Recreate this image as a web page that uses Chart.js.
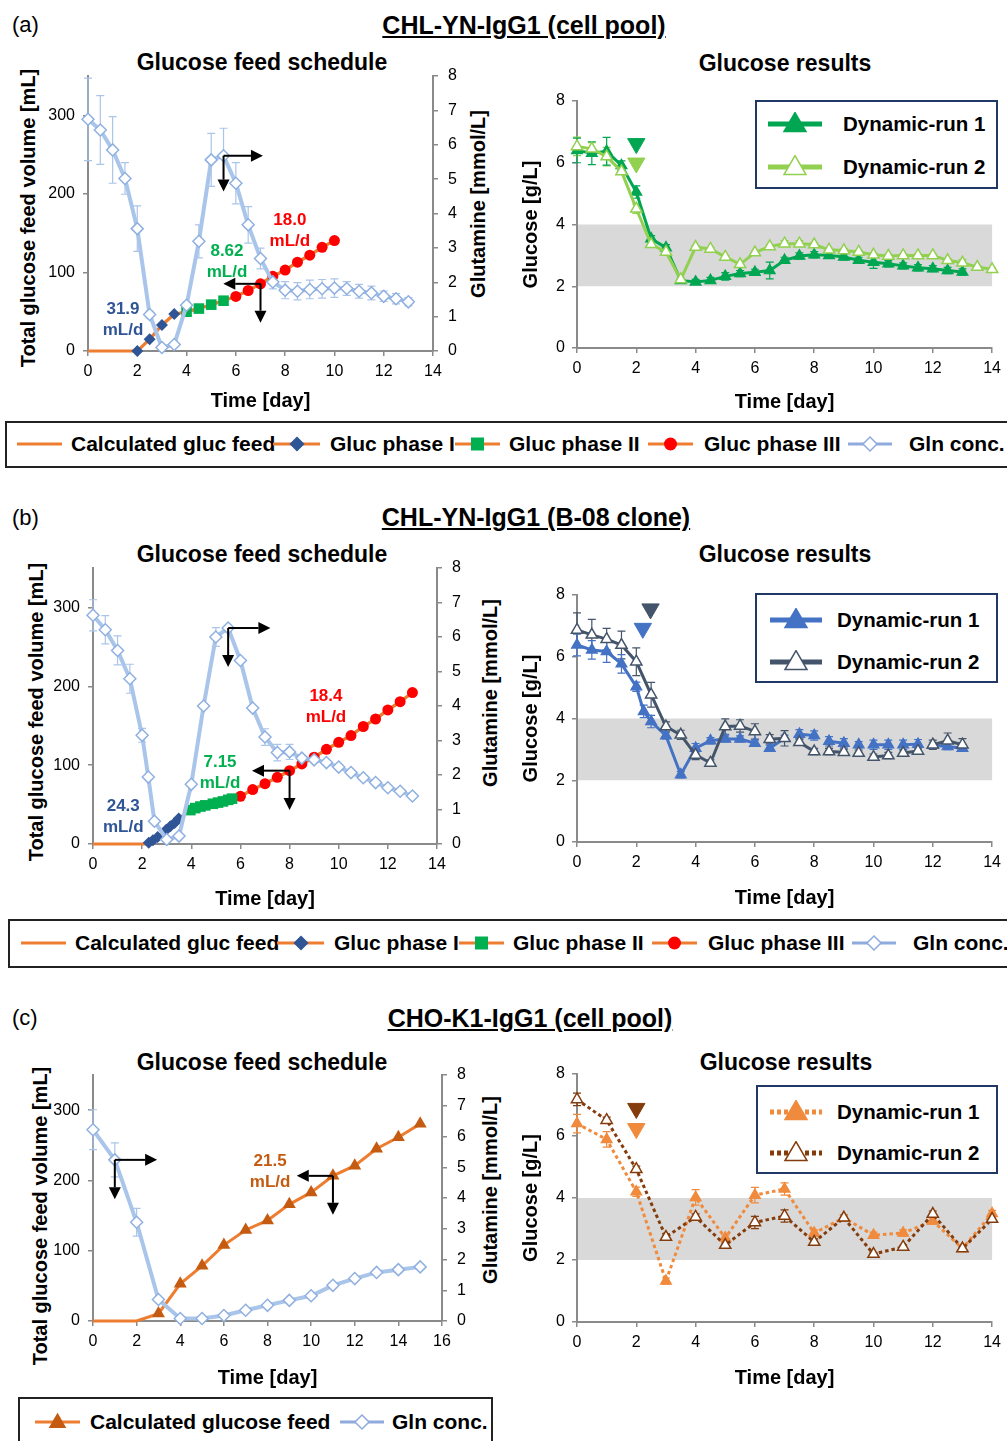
<!DOCTYPE html>
<html>
<head>
<meta charset="utf-8">
<title>Glucose feed schedule and results</title>
<script src="https://cdn.jsdelivr.net/npm/chart.js"></script>
<style>
  body { margin: 0; background: #fff; }
  #page { position: relative; width: 1007px; height: 1441px; overflow: hidden;
          font-family: "Liberation Sans", Arial, sans-serif; color: #000; }
  .t { position: absolute; white-space: nowrap; line-height: 26px; }
  .panel { font-size: 22px; }
  .head { font-size: 25px; font-weight: bold; text-decoration: underline; text-align: center; width: 500px; }
  .sub { font-size: 23px; font-weight: bold; text-align: center; width: 400px; }
  .rot { position: absolute; white-space: nowrap; font-size: 20px; font-weight: bold; line-height: 24px;
         transform: translate(-50%, -50%) rotate(-90deg); }
  canvas { position: absolute; }
  .box { position: absolute; border: 2px solid #222; box-sizing: border-box; }
  .inset { position: absolute; border: 2px solid #1F3864; box-sizing: border-box; background: #fff; }
  .li { position: absolute; height: 24px; display: flex; align-items: center; white-space: nowrap;
        font-weight: bold; font-size: 21px; }
  .li.small { font-size: 20.5px; }
</style>
</head>
<body>
<div id="page">
  <div class="t panel" style="left:12px;top:12px">(a)</div>
  <div class="t head" style="left:274px;top:12px">CHL-YN-IgG1 (cell pool)</div>
  <div class="t sub" style="left:62px;top:49px">Glucose feed schedule</div>
  <div class="t sub" style="left:585px;top:50px">Glucose results</div>
  <div class="rot" style="left:28px;top:218px">Total glucose feed volume [mL]</div>
  <div class="rot" style="left:478px;top:204px">Glutamine [mmol/L]</div>
  <canvas id="cA1"></canvas>
  <canvas id="cA2"></canvas>

  <div class="t panel" style="left:12px;top:505px">(b)</div>
  <div class="t head" style="left:286px;top:504px">CHL-YN-IgG1 (B-08 clone)</div>
  <div class="t sub" style="left:62px;top:541px">Glucose feed schedule</div>
  <div class="t sub" style="left:585px;top:541px">Glucose results</div>
  <div class="rot" style="left:36px;top:712px">Total glucose feed volume [mL]</div>
  <div class="rot" style="left:490px;top:693px">Glutamine [mmol/L]</div>
  <canvas id="cB1"></canvas>
  <canvas id="cB2"></canvas>

  <div class="t panel" style="left:12px;top:1005px">(c)</div>
  <div class="t head" style="left:280px;top:1005px">CHO-K1-IgG1 (cell pool)</div>
  <div class="t sub" style="left:62px;top:1049px">Glucose feed schedule</div>
  <div class="t sub" style="left:586px;top:1049px">Glucose results</div>
  <div class="rot" style="left:40px;top:1216px">Total glucose feed volume [mL]</div>
  <div class="rot" style="left:490px;top:1190px">Glutamine [mmol/L]</div>
  <canvas id="cC1"></canvas>
  <canvas id="cC2"></canvas>

  <div class="box" style="left:5px;top:421px;width:1012px;height:47px"></div>
  <div class="box" style="left:8px;top:919px;width:1012px;height:49px"></div>
  <div class="box" style="left:18px;top:1397px;width:475px;height:60px"></div>
  <div class="inset" style="left:755px;top:100px;width:243px;height:89px"></div>
  <div class="inset" style="left:755px;top:593px;width:243px;height:90px"></div>
  <div class="inset" style="left:756px;top:1085px;width:242px;height:89px"></div>
</div>

<script>
// ---------- (a) CHL-YN-IgG1 (cell pool) ----------
const aGlnDays = [0, 0.5, 1, 1.5, 2, 2.5, 3, 3.5, 4, 4.5, 5, 5.5, 6, 6.5, 7, 7.5, 8, 8.5, 9, 9.5, 10, 10.5, 11, 11.5, 12, 12.5, 13];
const aGln = [6.74, 6.43, 5.85, 5.02, 3.56, 1.06, 0.10, 0.19, 1.33, 3.19, 5.56, 5.68, 4.88, 3.67, 2.69, 2.01, 1.77, 1.74, 1.79, 1.81, 1.83, 1.82, 1.74, 1.69, 1.59, 1.52, 1.43];
const aGlnErr = [1.2, 1.0, 0.97, 0.46, 0.66, 0.1, 0.03, 0.05, 0.1, 0.48, 0.77, 0.8, 0.6, 0.53, 0.3, 0.2, 0.25, 0.25, 0.27, 0.27, 0.27, 0.2, 0.2, 0.2, 0.15, 0.15, 0.12];
const aZeroDays = [0, 2];
const aZeroFeed = [0, 0];
const aPh1Days = [2, 2.5, 3, 3.5];
const aPh1 = [0, 15, 33, 47];
const aPh2Days = [4, 4.5, 5, 5.5];
const aPh2 = [50, 54, 59, 64];
const aPh3Days = [6, 6.5, 7, 7.5, 8, 8.5, 9, 9.5, 10];
const aPh3 = [69.5, 77, 85.5, 95, 103, 113, 122, 132, 140.5];

const aRunDays1 = [0, 0.5, 1, 1.5, 2, 2.5, 3, 3.5, 4, 4.5, 5, 5.5, 6, 6.5, 7, 7.5, 8, 8.5, 9, 9.5, 10, 10.5, 11, 11.5, 12, 12.5, 13];
const aRun1 = [6.40, 6.31, 6.37, 5.91, 5.05, 3.54, 3.25, 2.19, 2.14, 2.19, 2.32, 2.41, 2.45, 2.51, 2.84, 2.98, 3.02, 3.00, 2.95, 2.84, 2.78, 2.73, 2.66, 2.60, 2.57, 2.51, 2.46];
const aRun1Err = [0.4, 0.37, 0.45, 0.15, 0.2, 0.1, 0.1, 0.05, 0.08, 0.1, 0.12, 0.1, 0.1, 0.27, 0.1, 0.1, 0.1, 0.1, 0.1, 0.1, 0.2, 0.1, 0.1, 0.1, 0.1, 0.1, 0.1];
const aRunDays2 = [0, 0.5, 1, 1.5, 2, 2.5, 3, 3.5, 4, 4.5, 5, 5.5, 6, 6.5, 7, 7.5, 8, 8.5, 9, 9.5, 10, 10.5, 11, 11.5, 12, 12.5, 13, 13.5, 14];
const aRun2 = [6.53, 6.45, 6.20, 5.72, 4.51, 3.36, 3.11, 2.22, 3.27, 3.21, 2.95, 2.71, 3.09, 3.29, 3.38, 3.38, 3.35, 3.18, 3.16, 3.11, 3.02, 2.98, 3.00, 3.00, 3.00, 2.84, 2.76, 2.62, 2.55];
const aRun2Err = [0.3, 0.2, 0.3, 0.1, 0.15, 0.05, 0.05, 0.05, 0.05, 0.05, 0.05, 0.05, 0.05, 0.05, 0.1, 0.1, 0.05, 0.05, 0.05, 0.05, 0.05, 0.05, 0.05, 0.05, 0.05, 0.05, 0.1, 0.05, 0.05];
const aStartDays = [2, 2];          // run 1, run 2 feed start
const aStart = [6.62, 5.99];

// ---------- (b) CHL-YN-IgG1 (B-08 clone) ----------
const bGlnDays = [0, 0.5, 1, 1.5, 2, 2.25, 2.5, 3, 3.5, 4, 4.5, 5, 5.5, 6, 6.5, 7, 7.5, 8, 8.5, 9, 9.5, 10, 10.5, 11, 11.5, 12, 12.5, 13];
const bGln = [6.63, 6.21, 5.61, 4.79, 3.15, 1.94, 0.66, 0.13, 0.23, 1.73, 4.00, 6.00, 6.26, 5.32, 3.94, 3.10, 2.65, 2.67, 2.49, 2.44, 2.36, 2.23, 2.07, 1.92, 1.78, 1.63, 1.53, 1.39];
const bGlnErr = [0.45, 0.41, 0.42, 0.42, 0.2, 0.05, 0.05, 0.03, 0.05, 0.05, 0.05, 0.27, 0.05, 0.05, 0.05, 0.24, 0.24, 0.22, 0.05, 0.05, 0.05, 0.05, 0.05, 0.05, 0.05, 0.05, 0.05, 0.05];
const bZeroDays = [0, 2.1];
const bZeroFeed = [0, 0];
const bPh1Days = [2.27, 2.44, 2.63, 2.98, 3.15, 3.32, 3.49];
const bPh1 = [1.7, 4.7, 8.9, 18.2, 22.5, 26.7, 32.2];
const bPh2Days = [3.96, 4.16, 4.37, 4.57, 4.88, 5.09, 5.29, 5.5, 5.66];
const bPh2 = [43, 45.5, 47.5, 49, 51, 52.5, 54, 56, 57.5];
const bPh3Days = [6, 6.5, 7, 7.5, 8, 8.5, 9, 9.5, 10, 10.5, 11, 11.5, 12, 12.5, 13];
const bPh3 = [60.5, 69, 76.5, 84.5, 93, 101.5, 110, 120, 129, 137.5, 149, 158.5, 170, 180.5, 192];

const bRunDays1 = [0, 0.5, 1, 1.5, 2, 2.25, 2.5, 3, 3.5, 4, 4.5, 5, 5.5, 6, 6.5, 7, 7.5, 8, 8.5, 9, 9.5, 10, 10.5, 11, 11.5, 12, 12.5, 13];
const bRun1 = [6.38, 6.22, 6.17, 5.77, 5.03, 4.23, 3.90, 3.44, 2.18, 3.04, 3.28, 3.34, 3.34, 3.20, 3.04, 3.36, 3.49, 3.45, 3.26, 3.20, 3.15, 3.15, 3.15, 3.15, 3.17, 3.13, 3.09, 3.04];
const bRun1Err = [0.35, 0.3, 0.35, 0.3, 0.15, 0.2, 0.2, 0.1, 0.1, 0.15, 0.1, 0.1, 0.1, 0.1, 0.1, 0.1, 0.15, 0.15, 0.15, 0.15, 0.1, 0.15, 0.15, 0.15, 0.15, 0.1, 0.1, 0.1];
const bRunDays2 = [0, 0.5, 1, 1.5, 2, 2.5, 3, 3.5, 4, 4.5, 5, 5.5, 6, 6.5, 7, 7.5, 8, 8.5, 9, 9.5, 10, 10.5, 11, 11.5, 12, 12.5, 13];
const bRun2 = [6.87, 6.71, 6.57, 6.38, 5.84, 4.77, 3.74, 3.47, 2.82, 2.56, 3.74, 3.76, 3.58, 3.33, 3.36, 3.23, 2.93, 2.93, 2.91, 2.88, 2.75, 2.80, 2.88, 2.95, 3.15, 3.28, 3.15];
const bRun2Err = [0.55, 0.5, 0.35, 0.45, 0.45, 0.4, 0.15, 0.15, 0.15, 0.1, 0.25, 0.2, 0.25, 0.15, 0.25, 0.1, 0.1, 0.1, 0.1, 0.1, 0.1, 0.1, 0.1, 0.1, 0.15, 0.25, 0.2];
// segments left undrawn in the original (line breaks between sampling pairs)
const bRun1Breaks = [13, 15, 17, 19, 20, 22, 24];
const bRun2Breaks = [12, 14, 16, 18, 19, 21, 23];
const bStartDays = [2.22, 2.48];
const bStart = [6.92, 7.55];

// ---------- (c) CHO-K1-IgG1 (cell pool) ----------
const cDays = [0, 1, 2, 3, 4, 5, 6, 7, 8, 9, 10, 11, 12, 13, 14, 15];
const cGln = [6.22, 5.24, 3.21, 0.70, 0.08, 0.08, 0.18, 0.35, 0.51, 0.67, 0.82, 1.16, 1.38, 1.58, 1.67, 1.76];
const cGlnErr = [0.65, 0.55, 0.45, 0.05, 0.03, 0.03, 0.03, 0.03, 0.05, 0.05, 0.05, 0.08, 0.05, 0.05, 0.1, 0.05];
const cFeed = [0, 0, 0, 10.5, 53, 78.5, 108, 129.5, 143, 166, 183, 206.5, 221, 245, 261.5, 280.5];

const cRunDays = [0, 1, 2, 3, 4, 5, 6, 7, 8, 9, 10, 11, 12, 13, 14];
const cRun1 = [6.40, 5.89, 4.20, 1.32, 4.02, 2.71, 4.09, 4.29, 2.87, 3.36, 2.80, 2.87, 3.26, 2.37, 3.50];
const cRun1Err = [0.3, 0.25, 0.15, 0.1, 0.25, 0.1, 0.25, 0.2, 0.1, 0.1, 0.1, 0.1, 0.1, 0.1, 0.1];
const cRun2 = [7.18, 6.51, 4.93, 2.74, 3.39, 2.48, 3.21, 3.42, 2.58, 3.36, 2.19, 2.42, 3.48, 2.37, 3.32];
const cRun2Err = [0.2, 0.1, 0.1, 0.1, 0.1, 0.1, 0.2, 0.2, 0.1, 0.1, 0.05, 0.05, 0.1, 0.05, 0.1];
const cStartDays = [2, 2];
const cStart = [6.24, 6.89];

// ---------- styling ----------
const FONT = '"Liberation Sans", Arial, sans-serif';
const AXIS = '#8a8a8a';
const ORANGE = '#ED7D31';
const PH1 = '#2F5597';
const PH2 = '#00B050';
const PH3 = '#FF0000';
const GLN_LINE = '#AAC5EA';
const GLN_PT = '#8FB0E0';
const GLN_LEG = '#8FAADC';

const pts = (xs, ys) => xs.map((x, i) => ({ x, y: ys[i] }));

function place(id, left, top, w, h) {
  const c = document.getElementById(id);
  c.width = w; c.height = h;
  c.style.left = left + 'px'; c.style.top = top + 'px';
  return c;
}

// error bars from dataset.errors, drawn under the lines
const errorBars = {
  id: 'errorBars',
  beforeDatasetsDraw(chart) {
    const ctx = chart.ctx;
    chart.data.datasets.forEach((ds, i) => {
      if (!ds.errors) return;
      const ys = chart.scales[chart.getDatasetMeta(i).yAxisID];
      ctx.save();
      ctx.strokeStyle = ds.errorColor;
      ctx.lineWidth = 1.2;
      ds.data.forEach((p, j) => {
        const e = ds.errors[j];
        if (!e) return;
        const x = chart.scales.x.getPixelForValue(p.x);
        const y1 = ys.getPixelForValue(p.y - e), y2 = ys.getPixelForValue(p.y + e);
        ctx.beginPath();
        ctx.moveTo(x, y1); ctx.lineTo(x, y2);
        ctx.moveTo(x - 4, y1); ctx.lineTo(x + 4, y1);
        ctx.moveTo(x - 4, y2); ctx.lineTo(x + 4, y2);
        ctx.stroke();
      });
      ctx.restore();
    });
  }
};

// grey target band on the results charts
function bandPlugin(lo, hi) {
  return {
    id: 'band',
    beforeDatasetsDraw(chart) {
      const { ctx, chartArea: a, scales: { y } } = chart;
      const top = y.getPixelForValue(hi), bot = y.getPixelForValue(lo);
      ctx.save();
      ctx.fillStyle = '#D9D9D9';
      ctx.fillRect(a.left + 1, top, a.right - a.left - 1, bot - top);
      ctx.restore();
    }
  };
}

function drawArrow(ctx, x0, y0, x1, y1) {
  const ang = Math.atan2(y1 - y0, x1 - x0), L = 12, W = 6;
  const bx = x1 - L * Math.cos(ang), by = y1 - L * Math.sin(ang);
  ctx.beginPath(); ctx.moveTo(x0, y0); ctx.lineTo(bx, by); ctx.stroke();
  ctx.beginPath(); ctx.moveTo(x1, y1);
  ctx.lineTo(bx + W * Math.sin(ang), by - W * Math.cos(ang));
  ctx.lineTo(bx - W * Math.sin(ang), by + W * Math.cos(ang));
  ctx.closePath(); ctx.fill();
}

// axis-pointing arrows and rate labels, given in data coordinates
function notesPlugin(arrows, labels) {
  return {
    id: 'notes',
    afterDatasetsDraw(chart) {
      const ctx = chart.ctx, xs = chart.scales.x;
      ctx.save();
      ctx.strokeStyle = '#000'; ctx.fillStyle = '#000'; ctx.lineWidth = 2;
      arrows.forEach(a => {
        const ys = chart.scales[a.axis];
        const x0 = xs.getPixelForValue(a.x), y0 = ys.getPixelForValue(a.y);
        drawArrow(ctx, x0, y0, xs.getPixelForValue(a.toX), y0);
        drawArrow(ctx, x0, y0, x0, ys.getPixelForValue(a.toY));
      });
      ctx.font = 'bold 17px ' + FONT;
      ctx.textAlign = 'center'; ctx.textBaseline = 'middle';
      labels.forEach(l => {
        const x = xs.getPixelForValue(l.x), y = chart.scales.y.getPixelForValue(l.y);
        ctx.fillStyle = l.color;
        ctx.fillText(l.rate, x, y - 10.5);
        ctx.fillText('mL/d', x, y + 10.5);
      });
      ctx.restore();
    }
  };
}

const tickFont = { family: FONT, size: 16 };
const titleFont = { family: FONT, size: 20, weight: 'bold' };

function xAxis(max, h) {
  return {
    type: 'linear', min: 0, max,
    afterFit: s => { s.height = h; },
    ticks: { stepSize: 2, color: '#000', font: tickFont, padding: 6, maxRotation: 0, autoSkip: false },
    grid: { drawOnChartArea: false, color: AXIS, tickLength: 5, lineWidth: 1.5 },
    border: { color: AXIS, width: 2 },
    title: { display: true, text: 'Time [day]', color: '#000', font: titleFont, padding: { top: 0, bottom: -2 } }
  };
}

function scheduleChart(id, box, ax, datasets, arrows, labels) {
  const c = place(id, box[0], box[1], box[2], box[3]);
  return new Chart(c, {
    type: 'scatter',
    data: { datasets },
    options: {
      responsive: false, animation: false, events: [],
      layout: { padding: { top: 20, left: 0, right: 0, bottom: 0 } },
      plugins: { legend: { display: false }, tooltip: { enabled: false } },
      scales: {
        x: xAxis(ax.xMax, ax.xH),
        y: {
          position: 'left', min: 0, max: 350,
          afterFit: s => { s.width = ax.yW; },
          afterBuildTicks: s => { s.ticks = s.ticks.filter(t => t.value % 100 === 0); },
          ticks: { color: '#000', font: tickFont, padding: 8 },
          grid: { drawOnChartArea: false, color: AXIS, tickLength: 5, lineWidth: 1.5 },
          border: { color: AXIS, width: 2 }
        },
        y1: {
          position: 'right', min: 0, max: 8,
          afterFit: s => { s.width = ax.y1W; },
          ticks: { stepSize: 1, color: '#000', font: tickFont, padding: 10 },
          grid: { drawOnChartArea: false, color: AXIS, tickLength: 5, lineWidth: 1.5 },
          border: { color: AXIS, width: 2 }
        }
      }
    },
    plugins: [errorBars, notesPlugin(arrows, labels)]
  });
}

function resultsChart(id, box, xH, datasets) {
  const c = place(id, box[0], box[1], box[2], box[3]);
  return new Chart(c, {
    type: 'scatter',
    data: { datasets },
    options: {
      responsive: false, animation: false, events: [],
      layout: { padding: { top: 20, left: 0, right: 14, bottom: 0 } },
      plugins: { legend: { display: false }, tooltip: { enabled: false } },
      scales: {
        x: xAxis(14, xH),
        y: {
          min: 0, max: 8,
          afterFit: s => { s.width = 67; },
          ticks: { stepSize: 2, color: '#000', font: tickFont, padding: 7 },
          grid: { drawOnChartArea: false, color: AXIS, tickLength: 5, lineWidth: 1.5 },
          border: { color: AXIS, width: 2 },
          title: { display: true, text: 'Glucose [g/L]', color: '#000', font: titleFont, padding: { top: 9, bottom: 0 } }
        }
      }
    },
    plugins: [bandPlugin(2, 4), errorBars]
  });
}

// dataset helpers
function glnSet(days, vals, errs) {
  return { label: 'Gln conc.', yAxisID: 'y1', data: pts(days, vals), errors: errs, errorColor: GLN_LINE,
           showLine: true, borderColor: GLN_LINE, borderWidth: 4, pointStyle: 'rectRot', pointRadius: 6,
           pointBackgroundColor: '#fff', pointBorderColor: GLN_PT, pointBorderWidth: 1.5, clip: false };
}
function phaseSet(label, days, vals, style, radius, color) {
  return { label, yAxisID: 'y', data: pts(days, vals), showLine: true, borderColor: ORANGE, borderWidth: 3,
           pointStyle: style, pointRadius: radius, pointBackgroundColor: color, pointBorderColor: color,
           pointBorderWidth: 0, clip: false };
}
function calcSet(days, vals) {
  return { label: 'Calculated gluc feed', yAxisID: 'y', data: pts(days, vals), showLine: true,
           borderColor: ORANGE, borderWidth: 3, pointRadius: 0, clip: false };
}
function runSet(label, days, vals, errs, color, filled, dash, breaks) {
  const br = breaks || [];
  return { label, data: pts(days, vals), errors: errs, errorColor: color, showLine: true,
           borderColor: color, borderWidth: 3, borderDash: dash || [], pointStyle: 'triangle',
           pointRadius: filled ? 6 : 6.5, pointBackgroundColor: filled ? color : '#fff',
           pointBorderColor: color, pointBorderWidth: 1.5, clip: false,
           segment: { borderColor: ctx => (br.includes(ctx.p0DataIndex) ? 'rgba(0,0,0,0)' : color) } };
}
function startSet(day, val, color) {
  return { label: 'feed start', data: [{ x: day, y: val }], showLine: false, pointStyle: 'triangle',
           rotation: 180, pointRadius: 10, pointBackgroundColor: color, pointBorderColor: color, clip: false };
}

// ---------- (a) charts ----------
scheduleChart('cA1', [0, 56, 495, 355], { xMax: 14, xH: 60, yW: 88, y1W: 62 }, [
  glnSet(aGlnDays, aGln, aGlnErr),
  phaseSet('Gluc phase I', aPh1Days, aPh1, 'rectRot', 6, PH1),
  phaseSet('Gluc phase II', aPh2Days, aPh2, 'rect', 7.5, PH2),
  phaseSet('Gluc phase III', aPh3Days, aPh3, 'circle', 5.5, PH3),
  calcSet([...aZeroDays, ...aPh1Days, ...aPh2Days, ...aPh3Days], [...aZeroFeed, ...aPh1, ...aPh2, ...aPh3])
], [
  { axis: 'y1', x: 5.5, y: 5.68, toX: 7.1, toY: 4.64 },
  { axis: 'y', x: 7, y: 85.5, toX: 5.49, toY: 36 }
], [
  { x: 1.42, y: 39.5, rate: '31.9', color: PH1 },
  { x: 5.64, y: 114, rate: '8.62', color: PH2 },
  { x: 8.19, y: 153, rate: '18.0', color: PH3 }
]);

const A_DG = '#00A651', A_LG = '#92D050';
resultsChart('cA2', [510, 81, 497, 331], 64, [
  startSet(aStartDays[0], aStart[0], A_DG),
  startSet(aStartDays[1], aStart[1], A_LG),
  runSet('Dynamic-run 2', aRunDays2, aRun2, aRun2Err, A_LG, false),
  runSet('Dynamic-run 1', aRunDays1, aRun1, aRun1Err, A_DG, true)
]);

// ---------- (b) charts ----------
scheduleChart('cB1', [0, 548, 500, 361], { xMax: 14, xH: 65, yW: 93, y1W: 63 }, [
  glnSet(bGlnDays, bGln, bGlnErr),
  phaseSet('Gluc phase I', bPh1Days, bPh1, 'rectRot', 6, PH1),
  phaseSet('Gluc phase II', bPh2Days, bPh2, 'rect', 7.5, PH2),
  phaseSet('Gluc phase III', bPh3Days, bPh3, 'circle', 5.5, PH3),
  calcSet([...bZeroDays, ...bPh1Days, ...bPh2Days, ...bPh3Days], [...bZeroFeed, ...bPh1, ...bPh2, ...bPh3])
], [
  { axis: 'y1', x: 5.5, y: 6.26, toX: 7.22, toY: 5.13 },
  { axis: 'y', x: 8, y: 93, toX: 6.47, toY: 43 }
], [
  { x: 1.23, y: 34.6, rate: '24.3', color: PH1 },
  { x: 5.17, y: 89.8, rate: '7.15', color: PH2 },
  { x: 9.48, y: 174.3, rate: '18.4', color: PH3 }
]);

const B_R1 = '#4472C4', B_R2 = '#44546A';
resultsChart('cB2', [510, 575, 497, 333], 66, [
  startSet(bStartDays[0], bStart[0], B_R1),
  startSet(bStartDays[1], bStart[1], B_R2),
  runSet('Dynamic-run 2', bRunDays2, bRun2, bRun2Err, B_R2, false, null, bRun2Breaks),
  runSet('Dynamic-run 1', bRunDays1, bRun1, bRun1Err, B_R1, true, null, bRun1Breaks)
]);

// ---------- (c) charts ----------
const C_FEED_PT = '#C55A11';
scheduleChart('cC1', [0, 1055, 500, 333], { xMax: 16, xH: 67, yW: 93, y1W: 58 }, [
  glnSet(cDays, cGln, cGlnErr),
  { label: 'Calculated glucose feed', yAxisID: 'y', data: pts(cDays, cFeed), showLine: true,
    borderColor: ORANGE, borderWidth: 3, pointStyle: 'triangle',
    pointRadius: ctx => (ctx.raw && ctx.raw.y > 0 ? 7.5 : 0),
    pointBackgroundColor: C_FEED_PT, pointBorderColor: C_FEED_PT, pointBorderWidth: 0, clip: false }
], [
  { axis: 'y1', x: 1, y: 5.24, toX: 2.94, toY: 3.96 },
  { axis: 'y', x: 11, y: 206.5, toX: 9.34, toY: 151 }
], [
  { x: 8.12, y: 212, rate: '21.5', color: C_FEED_PT }
]);

const C_R1 = '#F08A3C', C_R2 = '#843C0C';
resultsChart('cC2', [510, 1054, 497, 334], 66, [
  startSet(cStartDays[1], cStart[1], C_R2),
  startSet(cStartDays[0], cStart[0], C_R1),
  runSet('Dynamic-run 2', cRunDays, cRun2, cRun2Err, C_R2, false, [3.5, 3]),
  runSet('Dynamic-run 1', cRunDays, cRun1, cRun1Err, C_R1, true, [3.5, 3])
]);

// ---------- legends (html) ----------
const page = document.getElementById('page');
function glyph(w, color, lw, marker, dash) {
  const d = dash ? ` stroke-dasharray="${dash}"` : '';
  return `<svg width="${w}" height="24" viewBox="0 0 ${w} 24"><line x1="0" y1="12" x2="${w}" y2="12" stroke="${color}" stroke-width="${lw}"${d}/>${marker || ''}</svg>`;
}
const mk = {
  diamond: (cx, r, fill, stroke) => `<path d="M${cx} ${12 - r}L${cx + r} 12L${cx} ${12 + r}L${cx - r} 12Z" fill="${fill}" stroke="${stroke}" stroke-width="1.5"/>`,
  square: (cx, s, fill) => `<rect x="${cx - s / 2}" y="${12 - s / 2}" width="${s}" height="${s}" fill="${fill}"/>`,
  circle: (cx, r, fill) => `<circle cx="${cx}" cy="12" r="${r}" fill="${fill}"/>`,
  tri: (cx, w, h, fill, stroke) => `<path d="M${cx} ${12 - h * 0.6}L${cx + w / 2} ${12 + h * 0.4}L${cx - w / 2} ${12 + h * 0.4}Z" fill="${fill}" stroke="${stroke}" stroke-width="1.5"/>`
};
function item(left, cy, html, cls) {
  const d = document.createElement('div');
  d.className = 'li' + (cls ? ' ' + cls : '');
  d.style.left = left + 'px';
  d.style.top = (cy - 12) + 'px';
  d.innerHTML = html;
  page.appendChild(d);
}
function feedLegend(cy, dx) {
  item(17 + dx, cy, glyph(45, ORANGE, 3));
  item(71 + dx, cy, 'Calculated gluc feed');
  item(273 + dx, cy, glyph(47, ORANGE, 3, mk.diamond(24, 6.5, PH1, PH1)));
  item(330 + dx, cy, 'Gluc phase I');
  item(455 + dx, cy, glyph(45, ORANGE, 3, mk.square(22.5, 13, PH2)));
  item(509 + dx, cy, 'Gluc phase II');
  item(648 + dx, cy, glyph(45, ORANGE, 3, mk.circle(22.5, 6.5, PH3)));
  item(704 + dx, cy, 'Gluc phase III');
  item(848 + dx, cy, glyph(44, GLN_LEG, 3, mk.diamond(22, 7, '#fff', GLN_LEG)));
  item(909 + dx, cy, 'Gln conc.');
}
feedLegend(444, 0);
feedLegend(943, 4);

item(35, 1422, glyph(45, ORANGE, 3, mk.tri(22.5, 15, 13, C_FEED_PT, C_FEED_PT)));
item(90, 1422, 'Calculated glucose feed');
item(340, 1422, glyph(44, GLN_LEG, 3, mk.diamond(22, 7, '#fff', GLN_LEG)));
item(392, 1422, 'Gln conc.');

function runLegend(rows, left, textLeft, w, c1, c2, dash) {
  item(left, rows[0], glyph(w, c1, 5, mk.tri(w / 2, 22, 19, c1, c1), dash));
  item(textLeft, rows[0], 'Dynamic-run 1', 'small');
  item(left, rows[1], glyph(w, c2, 5, mk.tri(w / 2, 22, 19, '#fff', c2), dash));
  item(textLeft, rows[1], 'Dynamic-run 2', 'small');
}
runLegend([124, 167], 768, 843, 54, A_DG, A_LG);
runLegend([620, 662], 770, 837, 52, B_R1, B_R2);
runLegend([1112, 1153], 770, 837, 52, C_R1, C_R2, '4 3');
</script>
</body>
</html>
